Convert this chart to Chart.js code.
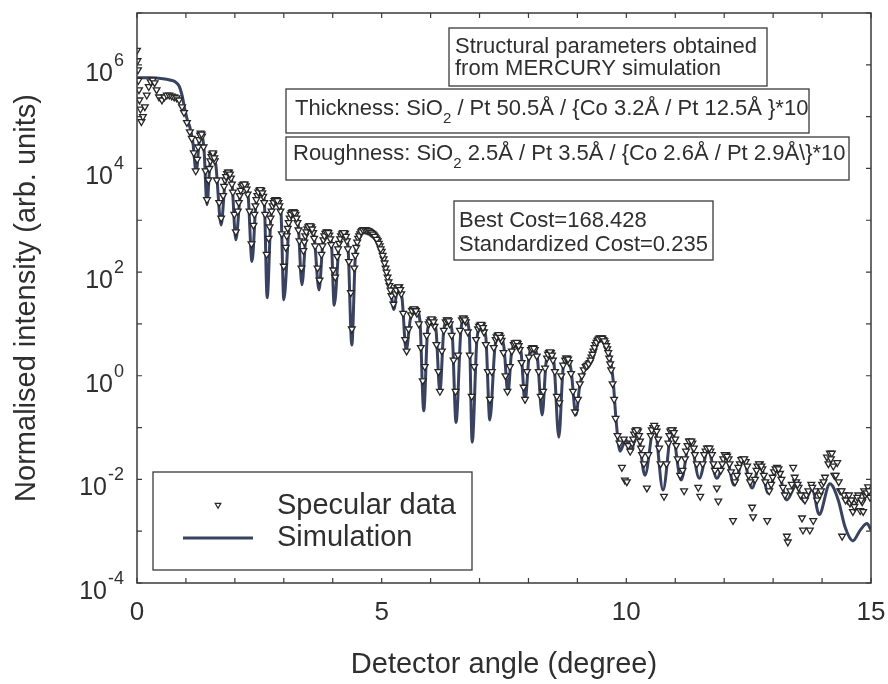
<!DOCTYPE html>
<html>
<head>
<meta charset="utf-8">
<script src="https://cdn.jsdelivr.net/npm/chart.js@4.4.0/dist/chart.umd.min.js"></script>
<style>
html,body{margin:0;padding:0;background:#fff}
#wrap{width:888px;height:684px;position:relative}
</style>
</head>
<body>
<div id="wrap"><canvas id="c"></canvas></div>
<script>
// measured specular reflectivity (degree, arb. units)
const angleData = [
  0.00,0.01,0.02,0.03,0.04,0.05,0.07,0.09,0.12,0.16,0.20,0.24,0.28,0.32,0.36,
  0.40,0.45,0.51,0.56,0.61,0.66,0.71,0.76,0.81,0.86,0.92,0.96,1.02,1.08,1.12,
  1.16,1.20,1.23,1.27,1.30,1.33,1.36,1.40,1.43,1.46,1.50,1.53,1.56,1.59,1.63,
  1.68,1.72,1.76,1.80,1.84,1.88,1.92,1.96,1.99,2.02,2.06,2.10,2.14,2.18,2.22,
  2.26,2.30,2.34,2.38,2.42,2.46,2.50,2.54,2.58,2.62,2.65,2.69,2.73,2.77,2.81,
  2.85,2.89,2.93,2.96,3.00,3.04,3.08,3.12,3.16,3.20,3.24,3.28,3.32,3.36,3.40,
  3.44,3.48,3.52,3.56,3.60,3.64,3.69,3.73,3.77,3.81,3.85,3.89,3.93,3.97,4.01,
  4.05,4.09,4.13,4.17,4.21,4.25,4.29,4.33,4.37,4.39,
  4.44,4.48,4.52,4.56,4.60,4.64,4.68,4.72,4.76,4.80,4.84,4.88,4.92,4.96,5.00,
  5.04,5.08,5.12,5.16,5.20,5.24,5.28,5.32,5.36,5.40,5.44,5.48,5.51,5.55,5.60,
  5.64,5.68,5.72,5.76,5.80,5.84,5.88,5.92,5.96,6.00,6.04,6.08,6.12,6.16,6.19,
  6.23,6.27,6.31,6.35,6.39,6.43,6.47,6.51,6.56,6.60,6.64,6.68,6.72,6.76,6.80,
  6.84,6.89,6.93,6.97,7.01,7.05,7.09,7.13,7.17,7.21,7.25,7.29,7.33,7.37,7.41,
  7.45,7.49,7.53,7.57,7.62,7.66,7.70,7.74,7.78,7.82,7.86,7.90,7.93,7.97,8.01,
  8.05,8.09,8.13,8.17,8.21,8.25,8.30,8.34,8.38,8.42,8.46,8.50,8.54,8.58,8.63,
  8.67,8.71,8.75,8.79,8.83,8.87,8.91,8.95,9.01,9.05,9.09,9.13,9.17,9.21,9.25,
  9.29,9.33,9.37,9.41,9.45,9.49,9.53,9.57,9.61,9.65,9.69,9.72,9.75,9.78,9.82,
  9.86,9.91,9.95,9.97,10.01,10.04,10.08,10.12,10.16,10.20,10.24,10.28,10.32,10.36,10.42,
  10.45,10.50,10.55,10.60,10.65,10.70,10.77,10.82,10.86,10.90,10.95,11.00,11.05,11.18,11.20,
  11.25,11.30,11.35,11.40,11.47,11.51,11.56,11.62,11.67,11.72,11.78,11.85,11.88,11.93,11.98,
  12.04,12.09,12.14,12.18,12.26,12.32,12.38,12.44,12.50,12.57,12.59,12.63,12.68,12.73,12.78,
  12.84,12.88,12.96,13.02,13.08,13.14,13.20,13.28,13.30,13.35,13.41,13.47,13.52,13.59,13.61,
  13.68,13.75,13.78,13.82,13.86,13.95,14.00,14.06,14.10,14.16,14.20,14.25,14.31,14.37,14.41,
  14.45,14.52,14.57,14.63,14.70,14.74,14.78,14.82,14.84,14.88,14.94,14.98
];
const intensityData = [
  1.9e6,1.2e6,8.0e5,5.0e5,3.3e5,2.1e5,1.4e5,8.0e4,1.0e5,1.55e5,2.6e5,3.8e5,4.7e5,5.1e5,4.5e5,
  3.3e5,2.4e5,2.1e5,2.4e5,2.6e5,2.6e5,2.5e5,2.4e5,2.3e5,2.1e5,1.55e5,1.2e5,7.7e4,5.1e4,3.8e4,
  2.0e4,9.0e3,1.5e4,3.6e4,4.8e4,4.2e4,2.6e4,9.0e3,2.5e3,6.0e3,1.4e4,1.9e4,1.9e4,1.4e4,6.0e3,
  2.2e3,1.1e3,3.0e3,6.0e3,8.0e3,8.5e3,6.5e3,3.5e3,1.3e3,6.0e2,1.5e3,3.0e3,4.5e3,5.0e3,4.6e3,
  3.2e3,1.5e3,3.5e2,8.0e2,1.9e3,3.0e3,3.8e3,3.8e3,2.9e3,1.3e3,2.2e2,4.5e2,1.1e3,1.9e3,2.4e3,
  2.5e3,2.2e3,1.5e3,5.5e2,1.3e2,3.0e2,7.0e2,1.1e3,1.4e3,1.45e3,1.3e3,9.0e2,4.0e2,1.2e2,2.6e2,
  5.0e2,6.8e2,7.8e2,7.5e2,5.8e2,3.2e2,1.2e2,7.0e1,2.2e2,4.2e2,5.6e2,6.0e2,5.2e2,3.4e2,1.1e2,
  8.0e1,2.0e2,3.6e2,5.0e2,5.8e2,5.6e2,4.0e2,1.6e2,4.0e1,8.0,
  1.2e2,3.0e2,4.5e2,5.5e2,6.3e2,6.6e2,6.5e2,6.3e2,6.0e2,5.6e2,5.2e2,4.6e2,4.0e2,3.2e2,2.5e2,
  1.8e2,1.2e2,8.0e1,5.5e1,3.5e1,2.4e1,3.8e1,5.0e1,5.2e1,3.8e1,1.6e1,5.0,3.0,8.0,1.5e1,
  1.9e1,1.9e1,1.6e1,1.0e1,3.5,0.8,1.5,6.0,1.0e1,1.2e1,1.2e1,9.0,4.0,1.2,0.5,
  3.0,7.5,1.1e1,1.2e1,1.0e1,6.0,2.0,0.5,2.5,7.5,1.2e1,1.3e1,1.1e1,7.0,2.5,
  0.4,1.5,5.0,8.0,9.5,9.5,7.0,4.0,1.2,0.35,1.2,3.5,5.0,6.0,6.0,
  4.8,2.8,1.0,0.5,1.5,3.0,4.0,4.3,4.2,3.2,1.8,0.6,0.35,1.2,2.3,
  3.2,3.5,3.2,2.4,1.2,0.4,0.5,1.4,2.2,2.8,2.8,2.0,1.2,0.4,0.3,
  1.0,1.6,2.0,2.2,1.8,1.1,0.5,0.2,0.35,0.7,1.0,1.3,1.5,1.6,1.8,
  2.3,3.0,4.0,4.8,5.3,5.4,5.0,4.3,3.3,2.2,1.3,0.7,0.35,0.15,0.07,
  0.05,0.017,0.06,0.0097,0.009,0.045,0.035,0.05,0.075,0.09,0.085,0.055,0.03,0.02,0.0068,
  0.03,0.07,0.10,0.10,0.06,0.02,0.0047,0.02,0.05,0.085,0.09,0.06,0.025,0.006,0.025,
  0.045,0.055,0.05,0.03,0.007,0.0047,0.02,0.035,0.04,0.035,0.02,0.0068,0.0038,0.015,0.025,
  0.03,0.025,0.014,0.0016,0.012,0.02,0.025,0.022,0.012,0.0029,0.0019,0.01,0.018,0.02,0.016,
  0.009,0.0016,0.008,0.014,0.017,0.013,0.007,0.0008,0.00062,0.006,0.017,0.009,0.007,0.0018,0.00105,
  0.005,0.00105,0.008,0.0016,0.006,0.005,0.008,0.011,0.027,0.032,0.032,0.012,0.021,0.006,0.0008,
  0.005,0.004,0.0035,0.0024,0.004,0.005,0.0025,0.0037,0.0024,0.005,0.0072,0.0045
];
const angleDense = [
  1.25,1.29,1.32,1.48,1.52,1.55,1.58,1.78,1.82,1.86,1.90,1.94,
  2.08,2.12,2.16,2.20,2.24,2.40,2.44,2.48,2.52,2.56,2.60,
  2.71,2.75,2.79,2.83,2.87,2.91,3.06,3.10,3.14,3.18,3.22,3.26,3.30,
  3.42,3.46,3.50,3.54,3.58,3.62,3.79,3.83,3.87,3.91,3.95,
  4.11,4.15,4.19,4.23,4.27,4.31,
  4.46,4.50,4.54,4.58,4.62,4.66,4.70,4.74,4.78,4.82,4.86,4.90,4.94,4.98,5.02,5.06,5.10,5.14,5.18,
  5.30,5.34,5.38,5.62,5.66,5.70,5.98,6.02,6.06,6.33,6.37,6.66,6.70,6.99,7.03,7.07,
  7.35,7.39,7.43,7.72,7.76,7.80,8.07,8.11,8.40,8.44,8.48,8.77,8.81,
  9.19,9.23,9.27,9.31,9.35,9.39,9.43,9.47,9.51,9.55,9.59,9.63,9.67,
  10.14,10.18,10.22,10.26,10.30,10.52,10.57,10.62,10.67,10.88,10.92,10.97,11.02,11.10,11.15,
  11.22,11.28,11.33,11.38,11.44,11.59,11.65,11.70,11.75,11.81,11.96,12.01,12.06,12.11,
  12.22,12.29,12.35,12.41,12.47,12.53,12.66,12.71,12.76,12.81,12.92,12.99,13.05,13.11,13.17,
  13.24,13.38,13.44,13.50,13.56,13.65,13.72,13.80,13.90,13.98,14.03,14.13,14.18,14.23,14.28,
  14.34,14.40,14.48,14.55,14.60,14.66,14.72,14.80,14.86,14.91,14.96
];
const intensityDense = [
  2.6e4,4.4e4,4.6e4,1.0e4,1.7e4,2.0e4,1.6e4,4.5e3,7.0e3,8.5e3,7.8e3,5.0e3,
  2.2e3,3.8e3,4.8e3,5.0e3,4.0e3,1.3e3,2.5e3,3.5e3,3.9e3,3.4e3,2.2e3,
  7.5e2,1.5e3,2.2e3,2.5e3,2.4e3,1.9e3,5.0e2,9.0e2,1.3e3,1.45e3,1.4e3,1.1e3,6.5e2,
  3.8e2,6.0e2,7.5e2,7.8e2,6.8e2,4.5e2,3.2e2,5.0e2,5.9e2,5.8e2,4.4e2,
  2.8e2,4.4e2,5.5e2,5.8e2,4.9e2,2.8e2,
  2.1e2,3.8e2,5.0e2,6.0e2,6.5e2,6.6e2,6.4e2,6.2e2,5.8e2,5.4e2,4.9e2,4.3e2,3.6e2,2.8e2,2.1e2,1.5e2,1.0e2,6.5e1,4.5e1,
  4.5e1,5.2e1,4.6e1,1.8e1,1.95e1,1.8e1,1.1e1,1.25e1,1.1e1,1.2e1,1.15e1,1.3e1,1.2e1,9.0,9.8,8.5,
  5.6,6.2,5.5,4.3,4.4,3.8,3.4,3.4,2.6,2.9,2.5,2.2,2.1,
  1.55,1.7,2.0,2.6,3.5,4.4,5.1,5.4,5.3,4.7,3.8,2.8,1.7,
  0.06,0.085,0.09,0.07,0.04,0.09,0.11,0.085,0.04,0.07,0.09,0.08,0.045,0.012,0.015,
  0.035,0.055,0.055,0.04,0.02,0.03,0.04,0.04,0.03,0.015,0.02,0.03,0.028,0.02,
  0.009,0.017,0.024,0.025,0.018,0.009,0.015,0.02,0.018,0.012,0.006,0.011,0.016,0.016,0.01,
  0.005,0.008,0.011,0.008,0.005,0.004,0.006,0.007,0.004,0.006,0.009,0.02,0.025,0.018,0.012,
  0.009,0.006,0.004,0.005,0.004,0.003,0.0045,0.004,0.006,0.0055,0.006
];
// MERCURY simulation curve
const angleSim = [
  0.00,0.27,0.53,0.67,0.78,0.86,0.92,0.98,1.04,1.08,
  1.14,1.21,1.27,1.31,1.37,1.43,1.49,1.55,1.61,1.72,
  1.80,1.88,1.94,2.02,2.11,2.19,2.27,2.35,2.43,2.53,
  2.60,2.66,2.74,2.86,2.94,3.00,3.11,3.21,3.29,3.37,
  3.45,3.54,3.62,3.72,3.80,3.88,3.97,4.03,4.13,4.23,
  4.31,4.39,4.46,4.54,4.64,4.74,4.84,4.93,5.01,5.09,
  5.17,5.25,5.31,5.37,5.42,5.50,5.59,5.70,5.78,5.86,
  5.94,6.03,6.11,6.19,6.27,6.36,6.44,6.52,6.62,6.70,
  6.79,6.85,6.95,7.05,7.13,7.21,7.32,7.42,7.50,7.58,
  7.66,7.77,7.85,7.93,8.01,8.09,8.18,8.28,8.36,8.44,
  8.52,8.62,8.71,8.79,8.87,8.97,9.05,9.16,9.26,9.38,
  9.48,9.59,9.67,9.73,9.79,9.87,9.99,10.10,10.22,10.38,
  10.57,10.75,10.93,11.12,11.30,11.49,11.67,11.85,12.04,12.20,
  12.39,12.57,12.73,12.90,13.08,13.28,13.47,13.63,13.80,13.94,
  14.16,14.33,14.47,14.63,14.78,14.92,15.00
];
const intensitySim = [
  5.6e5,5.6e5,5.4e5,5.1e5,4.7e5,3.9e5,2.6e5,1.35e5,7.9e4,6.3e4,
  3.3e4,8.5e3,3.3e4,5.0e4,2.3e4,2.0e3,1.2e4,2.0e4,1.2e4,8.1e2,
  5.5e3,8.5e3,5.5e3,4.2e2,3.1e3,5.3e3,3.1e3,1.6e2,2.0e3,3.9e3,
  2.5e3,32,1.27e3,2.5e3,1.6e3,29,8.1e2,1.45e3,9.3e2,57,
  4.6e2,7.8e2,5.0e2,45,3.8e2,6.0e2,4.0e2,23,3.3e2,5.8e2,
  3.3e2,3.9,1.9e2,4.8e2,6.3e2,6.3e2,5.6e2,4.2e2,2.4e2,1.2e2,
  57,19,41,52,29,3.1,13,19,12,0.21,
  7.7,12,7.7,0.48,7.7,12,7.0,0.125,7.7,13,
  7.0,0.052,5.4,9.6,5.4,0.14,3.9,6.1,3.5,0.46,
  3.1,4.3,2.8,0.31,2.3,3.5,2.3,0.175,1.8,2.8,
  1.8,0.065,1.45,2.2,1.3,0.175,0.67,1.45,1.8,3.9,
  5.4,4.6,2.2,0.83,0.14,0.035,0.058,0.035,0.09,0.012,
  0.11,0.0062,0.09,0.0097,0.058,0.0105,0.037,0.0105,0.027,0.0078,
  0.024,0.0068,0.021,0.0054,0.017,0.0040,0.0076,0.0037,0.0065,0.0021,
  0.0082,0.0040,0.0012,0.00065,0.00105,0.0014,0.00105
];

const xTickLabels = [0, 5, 10, 15];
const xMinorTicks = [0,1,2,3,4,5,6,7,8,9,10,11,12,13,14,15];
const yDecades = [-4,-3,-2,-1,0,1,2,3,4,5,6,7];
const yLabelExps = [6, 4, 2, 0, -2, -4];

const xTitle = 'Detector angle (degree)';
const yTitle = 'Normalised intensity (arb. units)';
const noteHead = ['Structural parameters obtained', 'from MERCURY simulation'];
const noteThick = [['Thickness: SiO'], ['2', 1], [' / Pt 50.5Å / {Co 3.2Å / Pt 12.5Å }*10']];
const noteRough = [['Roughness: SiO'], ['2', 1], [' 2.5Å / Pt 3.5Å / {Co 2.6Å / Pt 2.9Å\\}*10']];
const noteCost = ['Best Cost=168.428', 'Standardized Cost=0.235'];

const ink = '#2f2f2f';
const simColor = '#39425f';
const FONT = '"Liberation Sans", Arial, sans-serif';

function box(ctx, x0, y0, x1, y1) {
  ctx.fillStyle = '#fff';
  ctx.fillRect(x0, y0, x1 - x0, y1 - y0);
  ctx.strokeStyle = '#3a3a3a';
  ctx.lineWidth = 1.3;
  ctx.strokeRect(x0, y0, x1 - x0, y1 - y0);
  ctx.fillStyle = ink;
}
function rich(ctx, parts, x, y) {
  parts.forEach(p => {
    ctx.font = (p[1] ? '15px ' : '22px ') + FONT;
    ctx.fillText(p[0], x, y + (p[1] ? 8 : 0));
    x += ctx.measureText(p[0]).width;
  });
}

const decor = {
  id: 'decor',
  afterDatasetsDraw(chart) {
    const { ctx, chartArea: a, scales: { x, y } } = chart;
    ctx.save();
    ctx.textBaseline = 'alphabetic';

    // frame + inward ticks
    ctx.strokeStyle = '#3a3a3a';
    ctx.lineWidth = 1.5;
    ctx.strokeRect(a.left, a.top, a.right - a.left, a.bottom - a.top);
    ctx.lineWidth = 1.2;
    ctx.beginPath();
    xMinorTicks.forEach(v => {
      const px = x.getPixelForValue(v);
      ctx.moveTo(px, a.bottom); ctx.lineTo(px, a.bottom - 5);
      ctx.moveTo(px, a.top); ctx.lineTo(px, a.top + 5);
    });
    yDecades.forEach(e => {
      const py = y.getPixelForValue(Math.pow(10, e));
      ctx.moveTo(a.left, py); ctx.lineTo(a.left + 5, py);
      ctx.moveTo(a.right, py); ctx.lineTo(a.right - 5, py);
    });
    ctx.stroke();

    // tick labels
    ctx.fillStyle = ink;
    ctx.textAlign = 'center';
    ctx.font = '26px ' + FONT;
    xTickLabels.forEach(v => ctx.fillText(String(v), x.getPixelForValue(v), 620));
    ctx.textAlign = 'left';
    yLabelExps.forEach(e => {
      const py = y.getPixelForValue(Math.pow(10, e));
      const sup = String(e);
      ctx.font = '18px ' + FONT;
      const ws = ctx.measureText(sup).width;
      ctx.font = '25px ' + FONT;
      const wb = ctx.measureText('10').width;
      const x0 = 124 - ws - wb - 1;
      ctx.fillText('10', x0, py + 16);
      ctx.font = '18px ' + FONT;
      ctx.fillText(sup, x0 + wb + 1, py + 1);
    });

    // axis titles
    ctx.font = '29px ' + FONT;
    ctx.textAlign = 'center';
    ctx.fillText(xTitle, (a.left + a.right) / 2, 673);
    ctx.save();
    ctx.translate(35, (a.top + a.bottom) / 2);
    ctx.rotate(-Math.PI / 2);
    ctx.fillText(yTitle, 0, 0);
    ctx.restore();

    // annotation boxes
    ctx.textAlign = 'left';
    box(ctx, 449, 28, 767, 86);
    ctx.font = '22px ' + FONT;
    ctx.fillText(noteHead[0], 455, 53);
    ctx.fillText(noteHead[1], 455, 75);
    box(ctx, 286, 89, 809, 133);
    rich(ctx, noteThick, 295, 115);
    box(ctx, 286, 137, 849, 180);
    rich(ctx, noteRough, 293, 160);
    box(ctx, 454, 201, 713, 260);
    ctx.font = '22px ' + FONT;
    ctx.fillText(noteCost[0], 459, 227);
    ctx.fillText(noteCost[1], 459, 251);

    // legend
    box(ctx, 153, 472, 472, 570);
    ctx.strokeStyle = '#262626';
    ctx.fillStyle = '#ffffff';
    ctx.lineWidth = 1.2;
    Chart.helpers.drawPoint(ctx, { pointStyle: 'triangle', rotation: 180, radius: 3.2, borderWidth: 1.2 }, 218, 505);
    ctx.strokeStyle = simColor;
    ctx.lineWidth = 3;
    ctx.beginPath(); ctx.moveTo(183, 538); ctx.lineTo(253, 538); ctx.stroke();
    ctx.fillStyle = ink;
    ctx.font = '29px ' + FONT;
    ctx.fillText(chart.data.datasets[0].label, 277, 514);
    ctx.fillText(chart.data.datasets[1].label, 277, 546);
    ctx.restore();
  }
};

const specular = angleData.concat(angleDense).map((a, i) => ({
  x: a, y: intensityData.concat(intensityDense)[i]
}));

new Chart(document.getElementById('c'), {
  type: 'scatter',
  data: {
    datasets: [
      {
        label: 'Specular data',
        data: specular,
        pointStyle: 'triangle', rotation: 180,
        pointRadius: 3.9, pointHoverRadius: 3.9,
        borderColor: '#262626', backgroundColor: '#ffffff', borderWidth: 1.3
      },
      {
        label: 'Simulation',
        data: angleSim.map((a, i) => ({ x: a, y: intensitySim[i] })),
        showLine: true, pointRadius: 0, pointHoverRadius: 0,
        borderColor: simColor, borderWidth: 3,
        tension: 0.3, cubicInterpolationMode: 'monotone'
      }
    ]
  },
  options: {
    responsive: true,
    maintainAspectRatio: false,
    animation: false,
    events: [],
    layout: { padding: { left: 0, right: 17, top: 13, bottom: 0 }, autoPadding: false },
    plugins: { legend: { display: false }, tooltip: { enabled: false } },
    scales: {
      x: {
        type: 'linear', min: 0, max: 15,
        ticks: { display: false }, grid: { display: false }, border: { display: false },
        afterFit(s) { s.height = 101; }
      },
      y: {
        type: 'logarithmic', min: 1e-4, max: 1e7,
        ticks: { display: false }, grid: { display: false }, border: { display: false },
        afterFit(s) { s.width = 137; }
      }
    }
  },
  plugins: [decor]
});
</script>
</body>
</html>
